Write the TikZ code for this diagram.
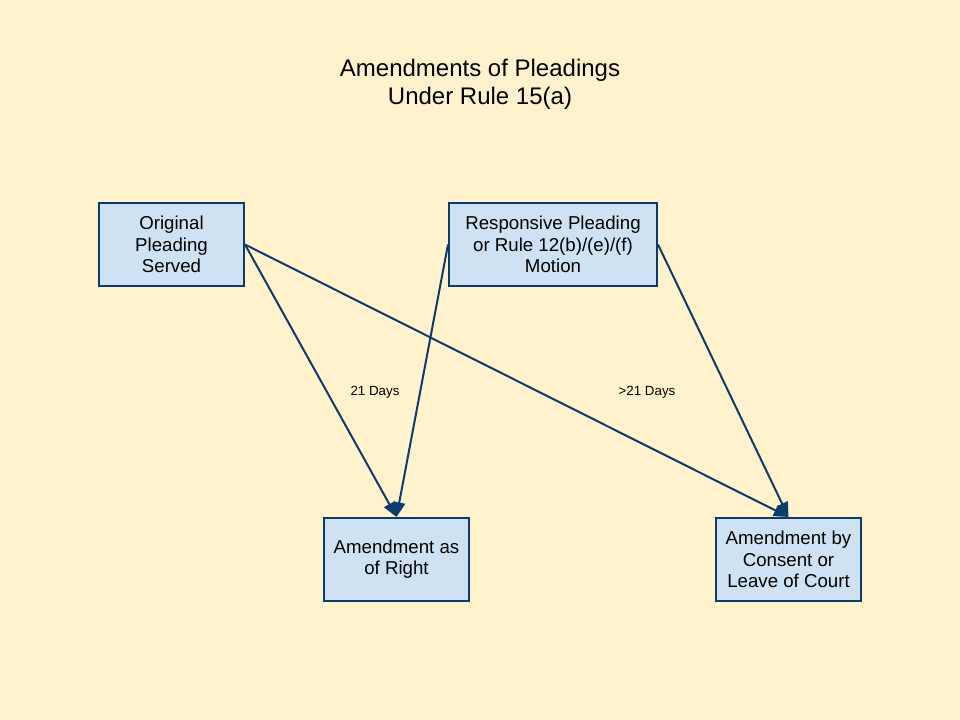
\documentclass[tikz,border=0pt]{standalone}
\usepackage{fontspec}
\setmainfont{Liberation Sans}
\usetikzlibrary{arrows.meta}
\definecolor{bgyellow}{RGB}{255,242,204}
\definecolor{boxblue}{RGB}{207,226,243}
\definecolor{lineblue}{RGB}{12,60,108}
\tikzset{
	pleading/.style={draw=lineblue, fill=boxblue, line width=1.5pt, align=center, minimum width=108.75pt, minimum height=62.25pt, font=\fontsize{14}{15.9}\selectfont, inner sep=2pt},
	deadline/.style={-{Triangle[length=11pt,width=9pt]}, draw=lineblue, line width=1.5pt, shorten <=0pt}
}
\begin{document}
\begin{tikzpicture}[x=0.75pt, y=-0.75pt]
		\fill [bgyellow] (0,0) rectangle (960,720);
		\useasboundingbox (0,0) rectangle (960,720);
		\node [align=center, font=\fontsize{18}{21}\selectfont] (title) at (480,84) {Amendments of Pleadings\\Under Rule 15(a)};
		\node [pleading] (orig) at (171.5,244.5) {Original\\Pleading\\Served};
		\node [pleading, minimum width=156pt] (resp) at (553,244.5) {Responsive Pleading\\or Rule 12(b)/(e)/(f)\\Motion};
		\node [pleading] (right) at (396.5,559.5) {Amendment as\\of Right};
		\node [pleading] (leave) at (788.5,559.5) {Amendment by\\Consent or\\Leave of Court};
		\draw [deadline] (orig.east) -- (right.north);
		\draw [deadline] (orig.east) -- (leave.north);
		\draw [deadline] (resp.west) -- (right.north);
		\draw [deadline] (resp.east) -- (leave.north);
		\node [font=\fontsize{10}{12}\selectfont] (short) at (375,392) {21 Days};
		\node [font=\fontsize{10}{12}\selectfont] (long) at (647,392) {>21 Days};
		\end{tikzpicture}
\end{document}
